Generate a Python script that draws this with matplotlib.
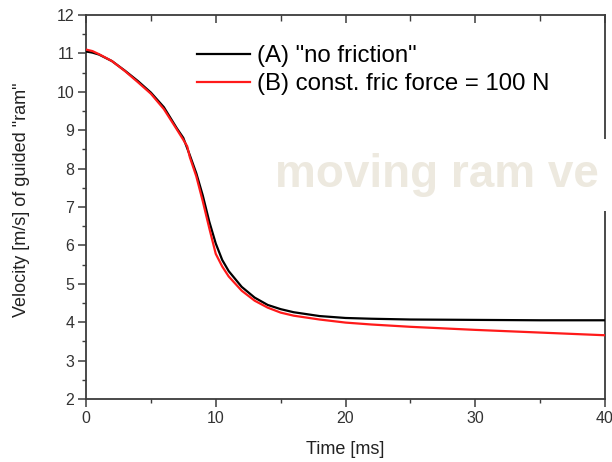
import matplotlib
matplotlib.use("Agg")
import matplotlib.pyplot as plt
from matplotlib.ticker import MultipleLocator

plt.rcParams['font.family'] = ['Liberation Sans', 'DejaVu Sans']

# Data
t_a = [0, 0.5, 1, 2, 3, 4, 5, 6, 7, 7.5, 8, 8.5, 9, 9.5, 10, 10.5, 11, 12, 13, 14,
       15, 16, 18, 20, 22, 25, 30, 35, 40]
v_a = [11.05, 11.02, 10.97, 10.80, 10.55, 10.28, 9.98, 9.60, 9.05, 8.80, 8.35, 7.88,
       7.30, 6.62, 6.05, 5.62, 5.33, 4.92, 4.64, 4.45, 4.34, 4.26, 4.16, 4.11, 4.09,
       4.07, 4.06, 4.05, 4.05]
t_b = [0, 0.5, 1, 2, 3, 4, 5, 6, 7, 7.5, 7.8, 8, 8.5, 9, 9.5, 10, 10.5, 11, 12, 13,
       14, 15, 16, 18, 20, 22, 25, 30, 35, 40]
v_b = [11.10, 11.06, 10.98, 10.80, 10.54, 10.25, 9.95, 9.55, 9.02, 8.75, 8.58, 8.30,
       7.80, 7.15, 6.45, 5.78, 5.45, 5.19, 4.82, 4.56, 4.38, 4.25, 4.17, 4.07, 3.99,
       3.94, 3.88, 3.80, 3.73, 3.66]
label_a = '(A) "no friction"'
label_b = '(B) const. fric force = 100 N'
xlabel = 'Time [ms]'
ylabel = 'Velocity [m/s] of guided "ram"'
watermark = 'moving ram ve'

fig = plt.figure(figsize=(6.12, 4.62), dpi=100)
ax = fig.add_axes([86/612, 1 - 399/462, (605-86)/612, (399-15)/462])

ax.plot(t_a, v_a, color='black', lw=1.6, label=label_a, zorder=3)
ax.plot(t_b, v_b, color='#ff1a1a', lw=1.6, label=label_b, zorder=3)

ax.set_xlim(0, 40)
ax.set_ylim(2, 12)
ax.xaxis.set_major_locator(MultipleLocator(10))
ax.xaxis.set_minor_locator(MultipleLocator(5))
ax.yaxis.set_major_locator(MultipleLocator(1))
ax.yaxis.set_minor_locator(MultipleLocator(0.5))

spine_col = '#3c3c3c'
for s in ax.spines.values():
    s.set_color(spine_col)
    s.set_linewidth(1.3)

ax.tick_params(axis='both', which='major', direction='out', length=5.5, width=1.1,
               color=spine_col, labelsize=11.5, labelcolor='#333333', pad=3)
ax.tick_params(axis='both', which='minor', direction='out', length=3, width=1.0,
               color=spine_col)
ax.tick_params(axis='x', which='both', top=True)
ax.tick_params(axis='y', which='both', right=False)
# top ticks inward
for tick in ax.xaxis.get_major_ticks():
    tick.tick2line.set_marker(3)  # TICKDOWN
    tick.tick2line.set_markersize(6)
for tick in ax.xaxis.get_minor_ticks():
    tick.tick2line.set_marker(3)
    tick.tick2line.set_markersize(4)

ax.set_xlabel(xlabel, fontsize=13, color='#222222')
ax.set_ylabel(ylabel, fontsize=13, color='#222222')
ax.yaxis.set_label_coords((30-86)/519, 0.52)
ax.xaxis.set_label_coords(0.5, -0.11)

leg = ax.legend(loc='upper left', bbox_to_anchor=((197-86)/519, (399-45)/384),
                frameon=False, fontsize=17.3, handlelength=2.2, handletextpad=0.3,
                labelspacing=0.26, borderpad=0, borderaxespad=0)

ax.text((275-86)/519, (399-187)/384, watermark, transform=ax.transAxes,
        fontsize=33, fontweight='bold', color='#ede9df', va='baseline', ha='left',
        zorder=5, clip_on=False,
        bbox=dict(facecolor='white', edgecolor='none', pad=10))

fig.savefig('out.png', dpi=100)
